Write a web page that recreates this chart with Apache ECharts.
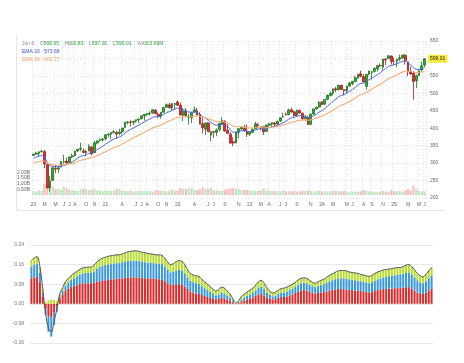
<!DOCTYPE html>
<html><head><meta charset="utf-8">
<script src="https://cdn.jsdelivr.net/npm/echarts@6/dist/echarts.min.js"></script>
<style>html,body{margin:0;padding:0;background:#fff}#c{width:464px;height:363px}</style>
</head><body><div id="c"></div>
<script>
const dates = ['2020-01-10','2020-01-24','2020-02-07','2020-02-21','2020-03-06','2020-03-20','2020-04-03','2020-04-17','2020-05-01','2020-05-15','2020-05-29','2020-06-12','2020-06-26','2020-07-10','2020-07-24','2020-08-07','2020-08-21','2020-09-04','2020-09-18','2020-10-02','2020-10-16','2020-10-30','2020-11-13','2020-11-27','2020-12-11','2020-12-25',
'2021-01-08','2021-01-22','2021-02-05','2021-02-19','2021-03-05','2021-03-19','2021-04-02','2021-04-16','2021-04-30','2021-05-14','2021-05-28','2021-06-11','2021-06-25','2021-07-09','2021-07-23','2021-08-06','2021-08-20','2021-09-03','2021-09-17','2021-10-01','2021-10-15','2021-10-29','2021-11-12','2021-11-26','2021-12-10','2021-12-24',
'2022-01-07','2022-01-21','2022-02-04','2022-02-18','2022-03-04','2022-03-18','2022-04-01','2022-04-15','2022-04-29','2022-05-13','2022-05-27','2022-06-10','2022-06-24','2022-07-08','2022-07-22','2022-08-05','2022-08-19','2022-09-02','2022-09-16','2022-09-30','2022-10-14','2022-10-28','2022-11-11','2022-11-25','2022-12-09','2022-12-23',
'2023-01-06','2023-01-20','2023-02-03','2023-02-17','2023-03-03','2023-03-17','2023-03-31','2023-04-14','2023-04-28','2023-05-12','2023-05-26','2023-06-09','2023-06-23','2023-07-07','2023-07-21','2023-08-04','2023-08-18','2023-09-01','2023-09-15','2023-09-29','2023-10-13','2023-10-27','2023-11-10','2023-11-24','2023-12-08','2023-12-22',
'2024-01-05','2024-01-19','2024-02-02','2024-02-16','2024-03-01','2024-03-15','2024-03-29','2024-04-12','2024-04-26','2024-05-10','2024-05-24','2024-06-07','2024-06-21','2024-07-05','2024-07-19','2024-08-02','2024-08-16','2024-08-30','2024-09-13','2024-09-27','2024-10-11','2024-10-25','2024-11-08','2024-11-22','2024-12-06','2024-12-20',
'2025-01-03','2025-01-17','2025-01-31','2025-02-14','2025-02-28','2025-03-14','2025-03-28','2025-04-11','2025-04-25','2025-05-09','2025-05-23','2025-06-06'];

const opens = [322.0,325.5,328.0,332.5,333.0,296.0,230.0,250.0,285.0,283.0,289.0,303.0,306.0,302.0,318.0,321.0,335.0,340.0,335.0,330.0,335.0,346.0,330.0,358.0,365.0,366.0,
370.0,381.0,383.0,388.0,388.0,385.0,390.0,402.0,417.0,418.0,417.0,420.0,424.0,427.0,435.0,440.0,442.0,444.0,452.0,440.0,434.0,446.0,460.0,467.0,458.0,468.0,
475.0,466.0,437.0,450.0,432.0,430.0,446.0,450.0,440.0,413.0,397.0,415.0,380.0,390.0,388.0,396.0,413.0,420.0,394.0,383.0,361.0,358.0,388.0,398.0,400.0,392.0,
383.0,388.0,398.0,410.0,400.0,404.0,391.0,409.0,412.0,415.0,412.0,421.0,432.0,440.0,439.0,453.0,447.0,437.0,451.0,443.0,427.0,431.0,411.0,441.0,455.0,461.0,
476.0,469.0,483.0,494.0,500.0,513.0,510.0,523.0,510.0,508.0,521.0,528.0,534.0,544.0,556.0,548.0,520.0,555.0,560.0,563.0,570.0,580.0,575.0,598.0,600.0,607.0,
592.0,592.0,598.0,601.0,609.0,590.0,563.0,558.0,536.0,551.0,567.0,581.0];
const closes = [325.7,328.8,332.2,333.5,297.5,228.8,248.2,286.6,282.8,286.3,304.3,304.2,300.1,317.6,320.9,334.6,339.5,342.6,330.7,333.8,347.3,326.5,358.1,363.7,366.7,369.0,
381.3,382.9,387.7,390.0,383.6,389.5,400.6,417.3,418.0,416.6,420.0,424.3,426.6,435.5,439.9,442.5,443.4,453.1,441.4,434.2,445.9,459.3,467.3,459.0,470.7,470.6,
466.1,438.0,448.7,434.2,432.2,444.5,452.9,437.8,412.0,401.7,415.3,389.8,390.1,388.7,395.1,413.5,422.1,392.2,385.6,357.2,357.6,389.0,398.5,402.3,393.3,382.9,
388.1,395.9,412.4,407.3,404.2,390.0,409.4,412.5,415.9,411.6,420.0,429.9,433.2,438.6,452.2,446.8,436.5,451.2,443.4,427.5,431.5,410.7,440.6,455.3,460.2,473.7,
467.9,482.4,494.4,499.5,512.9,509.8,523.1,510.9,508.3,520.8,529.4,534.0,544.5,554.6,549.0,532.9,554.3,563.7,562.0,571.5,579.6,579.0,598.2,595.5,607.8,591.2,
591.9,597.6,601.8,609.7,594.2,562.8,555.7,533.9,550.6,564.3,579.1,599.0];
const lows = [320.0,325.0,320.7,331.0,285.5,228.0,218.3,250.0,271.0,272.0,288.0,298.0,299.0,302.0,314.0,319.5,332.0,334.0,328.0,319.8,334.0,322.6,329.0,354.0,362.0,362.0,
364.8,375.5,368.3,385.0,370.4,380.0,383.9,402.0,411.0,405.3,408.9,416.0,414.7,426.0,422.0,436.0,436.4,441.0,440.0,428.8,427.2,445.0,460.0,456.0,448.9,454.7,
464.0,437.0,420.8,432.0,410.6,415.1,446.0,435.0,411.2,385.2,380.5,389.0,362.2,372.4,377.0,391.0,409.0,390.0,382.7,357.0,348.1,357.0,371.0,393.5,390.0,374.8,
377.8,386.0,398.0,404.0,393.6,380.7,389.0,405.0,403.8,403.7,408.0,418.0,431.0,436.0,437.0,444.0,433.0,435.0,441.0,422.3,420.2,409.2,411.0,438.0,453.0,458.0,
466.0,466.4,480.0,491.0,493.9,504.0,508.6,509.5,493.9,499.7,519.0,522.6,533.0,542.0,546.0,531.4,510.3,552.0,539.4,560.0,562.0,575.0,568.0,580.9,600.0,583.0,
580.9,575.4,592.0,597.9,582.4,549.7,553.0,481.8,515.0,550.0,562.0,575.0];
const highs = [327.5,332.9,334.2,339.1,337.0,299.5,263.0,288.0,294.9,294.0,306.8,323.4,315.6,319.2,327.2,335.0,339.6,358.8,342.0,338.0,354.0,349.5,364.4,364.2,371.0,372.5,
381.5,385.9,388.5,394.2,393.0,398.1,401.0,417.9,420.7,422.8,421.3,424.6,427.1,437.0,440.3,442.9,448.4,454.1,454.0,445.0,446.3,459.6,470.7,473.5,472.0,472.2,
480.0,473.2,458.1,457.9,441.0,444.9,462.1,457.8,445.8,429.7,415.4,417.4,391.0,392.0,399.5,416.0,431.7,423.0,411.7,389.0,373.6,389.5,399.4,404.0,410.0,410.5,
389.0,400.2,418.3,415.1,404.5,404.0,409.7,415.1,416.0,418.0,421.0,431.0,444.3,445.0,456.4,459.4,450.0,453.7,453.6,445.0,438.0,436.4,441.0,456.4,462.0,477.4,
477.0,482.7,496.1,505.1,513.3,518.2,524.6,524.4,511.0,522.0,533.1,536.0,550.3,555.0,565.2,555.0,555.0,565.0,564.0,574.7,580.3,586.1,599.0,600.9,609.1,608.0,
602.5,599.4,610.8,611.0,613.2,591.0,576.3,563.0,554.0,567.0,591.2,601.0];
const volumesM = [300,320,420,380,1000,1200,900,700,520,560,480,700,600,480,420,380,360,520,560,500,420,480,520,380,400,330,
420,380,360,400,560,520,380,360,340,420,300,320,340,320,380,300,340,280,400,420,360,340,300,400,480,360,
400,640,560,520,620,600,440,420,520,680,560,540,640,400,420,380,360,480,560,600,600,560,520,420,460,440,
380,400,380,360,420,560,420,340,360,340,320,320,380,300,320,320,340,280,340,380,380,420,360,300,320,380,
320,320,320,300,340,360,320,340,360,280,260,260,320,280,340,440,380,300,320,280,260,280,360,300,300,440,
320,340,380,300,420,520,400,820,560,360,320,300];
const ema20 = [314.5,317.1,319.8,322.3,317.8,301.8,292.2,291.2,289.7,289.1,291.8,294.0,295.1,299.2,303.1,308.8,314.3,319.4,321.4,323.6,327.9,327.6,333.1,338.6,343.7,348.3,
354.2,359.4,364.5,369.1,371.7,374.9,379.5,386.3,392.0,396.4,400.6,404.9,408.8,413.6,418.3,422.7,426.4,431.2,433.0,433.2,435.5,439.8,444.8,447.4,451.6,455.0,
457.0,453.6,452.7,449.4,446.3,446.0,447.2,445.5,439.5,432.7,429.6,422.4,416.6,411.6,408.6,409.5,411.8,408.3,404.2,395.7,388.8,388.8,390.5,392.6,392.7,390.9,
390.4,391.4,395.2,397.4,398.6,397.1,399.3,401.7,404.3,405.6,408.2,412.1,415.9,420.0,425.8,429.6,430.8,434.5,436.1,434.6,434.0,429.8,431.7,435.9,440.3,446.3,
450.2,456.0,462.9,469.5,477.3,483.2,490.4,494.1,496.7,501.0,506.1,511.1,517.1,523.9,528.4,529.2,533.7,539.1,543.2,548.3,553.9,558.4,565.6,571.0,577.6,580.0,
582.2,585.0,588.0,591.9,592.3,587.0,581.4,572.8,568.8,568.0,569.5,573.7];
const ema50 = [300.1,302.3,304.6,306.8,306.1,300.1,296.1,295.4,294.4,293.8,294.6,295.3,295.7,297.4,299.2,301.9,304.8,307.7,309.5,311.4,314.2,315.1,318.4,321.9,325.3,328.7,
332.8,336.7,340.6,344.4,347.4,350.6,354.4,359.2,363.7,367.8,371.8,375.8,379.7,384.0,388.3,392.5,396.4,400.8,403.9,406.2,409.3,413.1,417.3,420.5,424.4,428.0,
430.9,431.4,432.7,432.8,432.8,433.7,435.2,435.4,433.6,431.1,429.9,426.8,424.0,421.3,419.3,418.9,419.1,417.0,414.6,410.2,406.1,404.8,404.3,404.1,403.3,401.7,
400.7,400.3,401.2,401.7,401.9,401.0,401.6,402.4,403.4,404.0,405.2,407.1,409.1,411.4,414.5,417.0,418.5,421.0,422.7,423.1,423.7,422.7,424.1,426.5,429.1,432.5,
435.2,438.8,443.1,447.4,452.4,456.8,461.9,465.7,469.0,473.0,477.3,481.7,486.5,491.7,496.1,498.9,503.2,507.9,512.1,516.7,521.5,525.9,531.5,536.4,541.9,545.7,
549.3,553.0,556.8,560.9,563.5,563.4,562.8,560.6,559.8,560.2,561.0,562.8];

const oscRed = [.104,.108,.112,.088,.030,-.020,-.050,-.056,-.036,-.012,
.020,.036,.052,.062,.068,.072,.076,.080,.084,.084,
.084,.084,.086,.090,.092,.094,.096,.098,.100,.100,
.102,.102,.104,.106,.108,.108,.108,.108,.106,.106,
.104,.104,.104,.104,.102,.100,.098,.092,.084,.078,
.078,.080,.080,.078,.070,.060,.050,.046,.042,.040,
.036,.032,.028,.024,.020,.018,.020,.024,.022,.018,
.014,.006,.001,.004,.010,.014,.018,.022,.026,.032,
.038,.040,.034,.026,.020,.018,.020,.024,.028,.028,
.030,.034,.038,.044,.050,.054,.056,.054,.050,.046,
.042,.044,.046,.048,.050,.054,.056,.058,.060,.060,
.060,.058,.056,.056,.054,.054,.052,.050,.048,.046,
.048,.052,.056,.058,.060,.060,.062,.062,.064,.064,
.064,.066,.068,.068,.062,.054,.046,.040,.040,.046,
.054,.062];
const oscBlue = [.048,.052,.052,.040,.016,-.026,-.064,-.078,-.050,-.020,
.010,.016,.022,.026,.029,.032,.036,.038,.040,.042,
.042,.042,.046,.052,.058,.060,.062,.062,.062,.064,
.064,.064,.066,.066,.068,.068,.068,.068,.068,.066,
.066,.064,.064,.062,.062,.064,.064,.060,.054,.050,
.052,.056,.058,.058,.054,.048,.044,.042,.042,.042,
.036,.032,.028,.024,.020,.016,.018,.022,.020,.016,
.012,.006,.001,.003,.008,.012,.014,.016,.018,.022,
.028,.030,.026,.020,.016,.012,.014,.016,.018,.018,
.020,.022,.024,.026,.028,.030,.030,.030,.028,.026,
.026,.028,.030,.032,.036,.038,.040,.042,.044,.044,
.044,.044,.044,.042,.042,.040,.040,.040,.038,.038,
.040,.042,.044,.046,.048,.050,.050,.052,.052,.054,
.056,.056,.058,.060,.058,.054,.050,.046,.044,.046,
.050,.054];
const oscGreen = [.024,.028,.028,.022,.014,.006,.014,.018,.016,.012,
.010,.013,.016,.016,.018,.020,.020,.022,.022,.022,
.024,.024,.026,.028,.030,.032,.032,.034,.034,.034,
.034,.034,.034,.036,.036,.038,.040,.040,.040,.038,
.038,.038,.036,.036,.036,.036,.036,.034,.032,.032,
.034,.036,.038,.038,.036,.032,.030,.030,.030,.030,
.028,.026,.024,.022,.020,.018,.020,.022,.022,.018,
.014,.008,.002,.005,.012,.014,.016,.018,.020,.022,
.024,.026,.024,.020,.016,.014,.014,.016,.016,.018,
.018,.018,.018,.018,.020,.020,.020,.020,.018,.016,
.016,.018,.020,.020,.022,.024,.026,.028,.030,.032,
.032,.032,.030,.030,.030,.030,.028,.028,.028,.028,
.028,.030,.030,.030,.030,.030,.030,.030,.030,.030,
.028,.030,.032,.032,.032,.030,.028,.028,.026,.028,
.030,.032];

const shownMonths = ['2020-01','2020-03','2020-05','2020-06','2020-07','2020-08','2020-10','2020-11','2021-01','2021-04','2021-06','2021-07','2021-08','2021-10','2021-11','2022-01','2022-04','2022-06','2022-07','2022-09','2022-11','2023-01','2023-03','2023-04','2023-06','2023-07','2023-09','2023-11','2024-01','2024-03','2024-05','2024-06','2024-08','2024-09','2024-11','2025-01','2025-03','2025-05','2025-06'];
const header = {date:'Jun 6', o:'598.65', h:'600.83', l:'597.26', c:'599.01', vol:'303.69M', ema20:'573.68', ema50:'562.77'};
const lastPrice = 599.01;

const FONT = '"Liberation Sans", Arial, sans-serif';
const chart = echarts.init(document.getElementById('c'));
const candles = dates.map((d, i) => [opens[i], closes[i], lows[i], highs[i]]);
const volData = volumesM.map((v, i) => ({value: v, itemStyle: {color: closes[i] >= opens[i] ? 'rgba(110,195,110,0.45)' : 'rgba(240,120,120,0.5)'}}));
const oscLine = oscRed.map((v, i) => +(v + oscBlue[i] + oscGreen[i]).toFixed(4));
const showSet = new Set(shownMonths);
function isShown(i) {
  const ym = dates[i].slice(0, 7);
  if (i > 0 && dates[i - 1].slice(0, 7) === ym) return false;
  return showSet.has(ym);
}
const letters = 'JFMAMJJASOND';
function fmt(v) { const m = +v.slice(5, 7); return m === 1 ? v.slice(2, 4) : letters[m - 1]; }

chart.setOption({
  animation: false,
  backgroundColor: '#fff',
  grid: [
    {left: 32, right: 38, top: 41, bottom: 165},
    {left: 32, right: 38, top: 41, bottom: 168},
    {left: 30, right: 31, top: 245, bottom: 20}
  ],
  xAxis: [
    {type: 'category', gridIndex: 0, data: dates, axisLine: {show: false}, axisTick: {show: false},
     axisLabel: {interval: (i) => isShown(i), formatter: fmt, fontSize: 5, color: '#666', margin: 4, fontFamily: FONT},
     splitLine: {show: true, interval: (i) => isShown(i), lineStyle: {color: '#e4e4e4', type: [1, 2], width: 1}}},
    {type: 'category', gridIndex: 1, data: dates, show: false},
    {type: 'category', gridIndex: 2, data: dates, axisLine: {show: false}, axisTick: {show: false}, axisLabel: {show: false}}
  ],
  yAxis: [
    {type: 'value', gridIndex: 0, position: 'right', min: 200, max: 650, interval: 50,
     axisLabel: {fontSize: 5, color: '#666', margin: 4, fontFamily: FONT},
     splitLine: {lineStyle: {color: '#e4e4e4', type: [1, 2]}}, axisLine: {show: false}, axisTick: {show: false}},
    {type: 'value', gridIndex: 1, position: 'left', min: 0, max: 13500, interval: 500,
     axisLabel: {fontSize: 5, color: '#666', margin: 2, fontFamily: FONT, formatter: v => (v > 0 && v <= 2000) ? (v / 1000).toFixed(2) + 'B' : ''},
     splitLine: {show: false}, axisLine: {show: false}, axisTick: {show: false}},
    {type: 'value', gridIndex: 2, min: -0.16, max: 0.24, interval: 0.08,
     axisLabel: {fontSize: 5, color: '#777', margin: 6, fontFamily: FONT, formatter: v => v.toFixed(2)},
     splitLine: {lineStyle: {color: '#e6e6e6'}}, axisLine: {show: false}, axisTick: {show: false}}
  ],
  series: [
    {type: 'bar', xAxisIndex: 1, yAxisIndex: 1, data: volData, barWidth: '75%'},
    {type: 'candlestick', xAxisIndex: 0, yAxisIndex: 0, data: candles, barWidth: '80%',
     itemStyle: {color: '#2bb32b', color0: '#e33131', borderColor: '#1c6e1c', borderColor0: '#9e1c1c', borderWidth: 0.8}},
    {type: 'line', xAxisIndex: 0, yAxisIndex: 0, data: ema20, symbol: 'none', smooth: 0.3, lineStyle: {color: '#4664dc', width: 1}, z: 3},
    {type: 'line', xAxisIndex: 0, yAxisIndex: 0, data: ema50, symbol: 'none', smooth: 0.3, lineStyle: {color: '#f3ad78', width: 1.1}, z: 3},
    {type: 'bar', xAxisIndex: 2, yAxisIndex: 2, stack: 'osc', data: oscRed, barCategoryGap: '30%', itemStyle: {color: '#d92b2b'}},
    {type: 'bar', xAxisIndex: 2, yAxisIndex: 2, stack: 'osc', data: oscBlue, itemStyle: {color: '#3a97dc'}},
    {type: 'bar', xAxisIndex: 2, yAxisIndex: 2, stack: 'osc', data: oscGreen, itemStyle: {color: '#b5dc2e'}},
    {type: 'line', xAxisIndex: 2, yAxisIndex: 2, data: oscLine, symbol: 'none', smooth: 0.4, lineStyle: {color: '#555', width: 1}, z: 4}
  ]
});

const py = chart.convertToPixel({yAxisIndex: 0}, lastPrice);
chart.setOption({
  graphic: [
    {type: 'line', shape: {x1: 16.5, y1: 35, x2: 16.5, y2: 210.5}, style: {stroke: '#e6e6e6', lineWidth: 1}, silent: true},
    {type: 'line', shape: {x1: 16.5, y1: 210.5, x2: 445, y2: 210.5}, style: {stroke: '#e6e6e6', lineWidth: 1}, silent: true},
    {type: 'text', left: 22, top: 41, z: 10, style: {
      text: '{g|' + header.date + '}    {g|O}{v|' + header.o + '}    {g|H}{v|' + header.h + '}    {g|L}{v|' + header.l + '}    {g|C}{v|' + header.c + '}    {g|Vol}{v|' + header.vol + '}',
      fontSize: 5, fontFamily: FONT,
      rich: {g: {fill: '#888', fontSize: 5, fontFamily: FONT}, v: {fill: '#2a9d3a', fontSize: 5, fontFamily: FONT}}}},
    {type: 'text', left: 22, top: 49, z: 10, style: {text: 'EMA 20 · ' + header.ema20, fill: '#3652d0', fontSize: 5, fontFamily: FONT}},
    {type: 'text', left: 22, top: 57, z: 10, style: {text: 'EMA 50 · ' + header.ema50, fill: '#f0a060', fontSize: 5, fontFamily: FONT}},
    {type: 'text', x: 428, y: py, z: 10, style: {text: lastPrice.toFixed(2), fill: '#222', fontSize: 5, fontFamily: FONT, verticalAlign: 'middle', backgroundColor: '#f7ea3c', padding: [1.5, 2]}}
  ]
});
</script>
</body></html>
